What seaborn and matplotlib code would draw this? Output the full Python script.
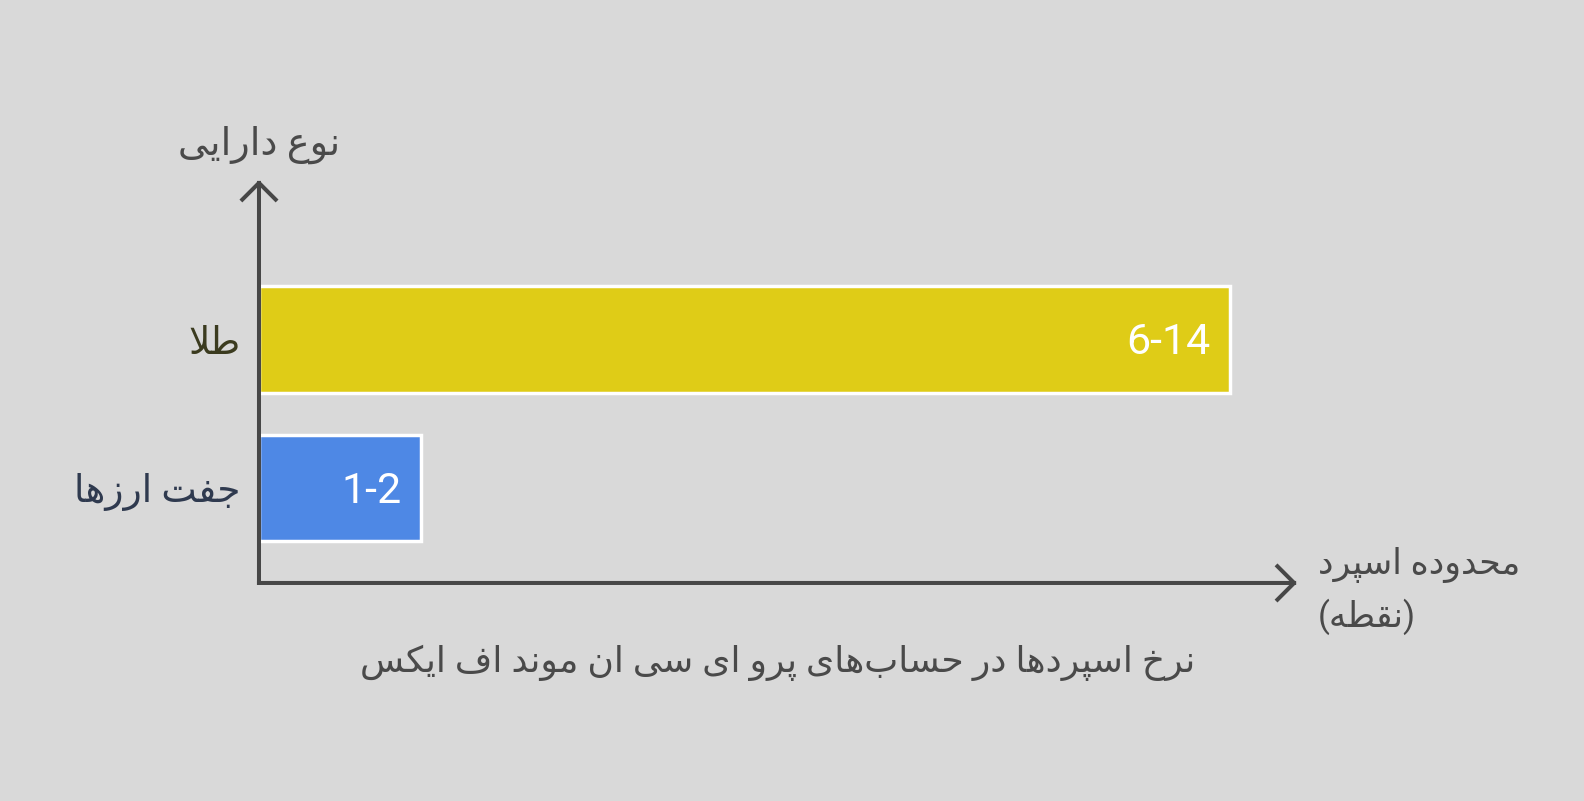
import matplotlib.pyplot as plt
import pandas as pd
import seaborn as sns

# data (top bar first)
assets = ['طلا', 'جفت ارزها']
spread_max = [12, 2]
spread_ranges = ['6-14', '1-2']
bar_colors = ['#dfcc17', '#4e88e5']
label_colors = ['#3b3b1f', '#2f3a4f']

y_title = 'نوع دارایی'
x_title = 'محدوده اسپرد\n(نقطه)'
chart_title = 'نرخ اسپردها در حساب\u200cهای پرو ای سی ان موند اف ایکس'

# matplotlib has no arabic shaping, so map letters to presentation forms
# (isolated, final, initial, medial); None = letter does not join forward
FORMS = {
    'ا': ('\uFE8D', '\uFE8E', None, None),
    'ب': ('\uFE8F', '\uFE90', '\uFE91', '\uFE92'),
    'پ': ('\uFB56', '\uFB57', '\uFB58', '\uFB59'),
    'ت': ('\uFE95', '\uFE96', '\uFE97', '\uFE98'),
    'ج': ('\uFE9D', '\uFE9E', '\uFE9F', '\uFEA0'),
    'ح': ('\uFEA1', '\uFEA2', '\uFEA3', '\uFEA4'),
    'خ': ('\uFEA5', '\uFEA6', '\uFEA7', '\uFEA8'),
    'د': ('\uFEA9', '\uFEAA', None, None),
    'ر': ('\uFEAD', '\uFEAE', None, None),
    'ز': ('\uFEAF', '\uFEB0', None, None),
    'س': ('\uFEB1', '\uFEB2', '\uFEB3', '\uFEB4'),
    'ط': ('\uFEC1', '\uFEC2', '\uFEC3', '\uFEC4'),
    'ع': ('\uFEC9', '\uFECA', '\uFECB', '\uFECC'),
    'ف': ('\uFED1', '\uFED2', '\uFED3', '\uFED4'),
    'ق': ('\uFED5', '\uFED6', '\uFED7', '\uFED8'),
    'ک': ('\uFB8E', '\uFB8F', '\uFB90', '\uFB91'),
    'ل': ('\uFEDD', '\uFEDE', '\uFEDF', '\uFEE0'),
    'م': ('\uFEE1', '\uFEE2', '\uFEE3', '\uFEE4'),
    'ن': ('\uFEE5', '\uFEE6', '\uFEE7', '\uFEE8'),
    'ه': ('\uFEE9', '\uFEEA', '\uFEEB', '\uFEEC'),
    'و': ('\uFEED', '\uFEEE', None, None),
    'ی': ('\uFBFC', '\uFBFD', '\uFBFE', '\uFBFF'),
}


def joins_forward(c):
    return c in FORMS and FORMS[c][2] is not None


def shape_line(text):
    res = []
    i = 0
    n = len(text)
    while i < n:
        c = text[i]
        if c not in FORMS:
            if c != '\u200c':
                res.append(c)
            i += 1
            continue
        link_prev = i > 0 and joins_forward(text[i - 1])
        if c == 'ل' and i + 1 < n and text[i + 1] == 'ا':  # lam-alef ligature
            res.append('\uFEFC' if link_prev else '\uFEFB')
            i += 2
            continue
        link_next = joins_forward(c) and i + 1 < n and text[i + 1] in FORMS
        iso, fin, ini, med = FORMS[c]
        if link_prev and link_next:
            res.append(med)
        elif link_prev:
            res.append(fin)
        elif link_next:
            res.append(ini)
        else:
            res.append(iso)
        i += 1
    visual = ''.join(reversed(res))
    return visual.translate(str.maketrans('()', ')('))


def rtl(text):
    return '\n'.join(shape_line(line) for line in text.split('\n'))


sns.set_theme(style='white')
plt.rcParams['font.family'] = ['Roboto', 'DejaVu Sans']

df = pd.DataFrame({'asset': [rtl(a) for a in assets], 'spread': spread_max})

fig = plt.figure(figsize=(15.84, 8.01), dpi=100, facecolor='#d9d9d9')
ax = fig.add_axes([0.1635, 0.2722, 0.6553, 0.503])
ax.set_facecolor('none')

sns.barplot(
    data=df, x='spread', y='asset', hue='asset', palette=bar_colors, legend=False,
    width=0.72, edgecolor='white', linewidth=2.5, saturation=1, ax=ax,
)
ax.set_xlim(0, 12.83)
ax.set_ylim(1.64, -1.074)
sns.despine(ax=ax, left=True, bottom=True)
ax.set_xticks([])
ax.set_xlabel('')
ax.set_ylabel('')
ax.tick_params(axis='y', length=0, pad=13.5, labelsize=27)
for lbl, col in zip(ax.get_yticklabels(), label_colors):
    lbl.set_color(col)

# range labels inside the bars
for container, txt in zip(ax.containers, spread_ranges):
    bar = container.patches[0]
    ax.annotate(txt, xy=(bar.get_width(), bar.get_y() + bar.get_height() / 2),
                xytext=(-14, -2.5), textcoords='offset points', ha='right', va='center',
                color='white', fontsize=31)

# axis arrows
arrow = dict(arrowstyle='->,head_length=0.4,head_width=0.4', lw=2.9, color='#474747',
             mutation_scale=30, shrinkA=0, shrinkB=0, capstyle='projecting')
ax.annotate('', xy=(1, 0), xytext=(0, 0), xycoords='axes fraction', arrowprops=arrow)
ax.annotate('', xy=(0, 1), xytext=(0, 0), xycoords='axes fraction', arrowprops=arrow)

ax.text(0, 1.088, rtl(y_title), transform=ax.transAxes, ha='center', va='center',
        fontsize=27.5, color='#4a4a4a')
ax.text(1.02, -0.02, rtl(x_title), transform=ax.transAxes, ha='left', va='center',
        fontsize=25, color='#4a4a4a', linespacing=1.55)
ax.text(0.5, -0.199, rtl(chart_title), transform=ax.transAxes, ha='center', va='center',
        fontsize=26, color='#4a4a4a')

fig.savefig('out.png', dpi=100, facecolor=fig.get_facecolor())
